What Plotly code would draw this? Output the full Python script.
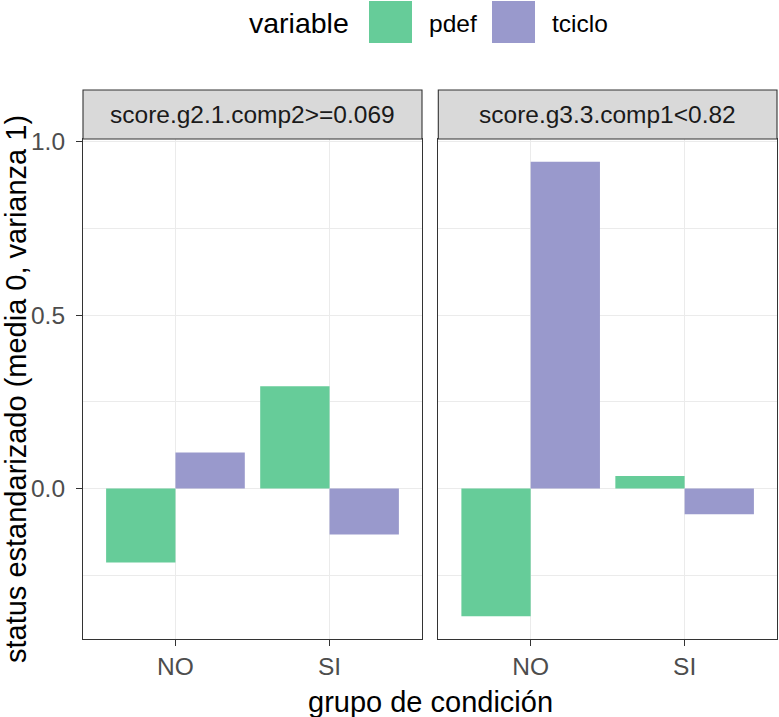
import plotly.graph_objects as go

# ---- data ----
groups = ["NO", "SI"]
facets = ["score.g2.1.comp2>=0.069", "score.g3.3.comp1<0.82"]
variables = ["pdef", "tciclo"]
colors = {"pdef": "#66CC99", "tciclo": "#9999CC"}
pdef_f1 = [-0.213, 0.295]
tciclo_f1 = [0.104, -0.132]
pdef_f2 = [-0.368, 0.036]
tciclo_f2 = [0.942, -0.074]

values = {
    (0, "pdef"): pdef_f1, (0, "tciclo"): tciclo_f1,
    (1, "pdef"): pdef_f2, (1, "tciclo"): tciclo_f2,
}

FONT = "Liberation Sans, Arial, sans-serif"
TXT = 24.5
TTL = 29
W, H = 779, 717
ML, MR, MT, MB = 83, 2, 139, 78
plot_w = W - ML - MR
plot_h = H - MT - MB

fig = go.Figure()
for fi in range(2):
    xa = "x" if fi == 0 else "x2"
    ya = "y" if fi == 0 else "y2"
    for v in variables:
        fig.add_trace(go.Bar(
            x=groups, y=values[(fi, v)], name=v,
            marker=dict(color=colors[v], line=dict(width=0)),
            xaxis=xa, yaxis=ya, showlegend=False, offsetgroup=v,
        ))

# y range per ggplot expansion
allv = pdef_f1 + tciclo_f1 + pdef_f2 + tciclo_f2
lo, hi = min(allv), max(allv)
pad = 0.05 * (hi - lo)
yrange = [lo - pad, hi + pad]

d1 = (422 - ML) / plot_w
d2 = (438.3 - ML) / plot_w

axis_common = dict(
    showline=True, mirror=True, linecolor="#333333", linewidth=1.1,
    ticks="outside", ticklen=6, tickwidth=1.1, tickcolor="#333333",
    tickfont=dict(family=FONT, size=TXT, color="#4D4D4D"),
    gridcolor="#EBEBEB", gridwidth=1.1, zeroline=False,
)
xcommon = dict(axis_common, type="category", range=[-0.6, 1.6], showgrid=True)
ycommon = dict(axis_common, range=yrange, tickvals=[0, 0.5, 1.0],
               ticktext=["0.0", "0.5", "1.0"], showgrid=True,
               minor=dict(tickvals=[-0.25, 0.25, 0.75], showgrid=True,
                          gridcolor="#EBEBEB", gridwidth=0.6, ticks=""))

fig.update_layout(
    width=W, height=H,
    margin=dict(l=ML, r=MR, t=MT, b=MB, autoexpand=False),
    paper_bgcolor="white", plot_bgcolor="white",
    barmode="group", bargap=0.1, bargroupgap=0,
    showlegend=False,
    font=dict(family=FONT),
    xaxis=dict(xcommon, domain=[0, d1], anchor="y"),
    xaxis2=dict(xcommon, domain=[d2, 1], anchor="y2"),
    yaxis=dict(ycommon, anchor="x", ticklabelstandoff=6),
    yaxis2=dict(ycommon, anchor="x2", showticklabels=False, ticks=""),
)

# facet strips
strip_top = 1 + (MT - 90) / plot_h
shapes = []
annotations = []
for fi, (a, b) in enumerate([(0, d1), (d2, 1)]):
    shapes.append(dict(type="rect", xref="paper", yref="paper",
                       x0=a, x1=b, y0=1, y1=strip_top,
                       fillcolor="#D9D9D9", line=dict(color="#333333", width=1.1),
                       layer="above"))
    annotations.append(dict(text=facets[fi], xref="paper", yref="paper",
                            x=(a + b) / 2, y=(1 + strip_top) / 2,
                            showarrow=False, xanchor="center", yanchor="middle",
                            font=dict(family=FONT, size=TXT, color="#1A1A1A")))

def px_x(px):
    return (px - ML) / plot_w

def px_y(py):
    return (MT + plot_h - py) / plot_h

# axis titles
annotations.append(dict(text="grupo de condición", xref="paper", yref="paper",
                        x=0.5, y=px_y(702),
                        showarrow=False, xanchor="center", yanchor="middle",
                        font=dict(family=FONT, size=TTL, color="black")))
annotations.append(dict(text="status estandarizado (media 0, varianza 1)",
                        xref="paper", yref="paper",
                        x=px_x(16), y=0.5, textangle=-90,
                        showarrow=False, xanchor="center", yanchor="middle",
                        font=dict(family=FONT, size=TTL, color="black")))

# legend (drawn manually, ggplot-style keys)
annotations.append(dict(text="variable", xref="paper", yref="paper",
                        x=px_x(351), y=px_y(23), showarrow=False,
                        xanchor="right", yanchor="middle",
                        font=dict(family=FONT, size=28.5, color="black")))
key_left = {"pdef": 369, "tciclo": 492}
for v in variables:
    shapes.append(dict(type="rect", xref="paper", yref="paper",
                       x0=px_x(key_left[v]), x1=px_x(key_left[v] + 43),
                       y0=px_y(43), y1=px_y(1),
                       fillcolor=colors[v], line=dict(width=0)))
    annotations.append(dict(text=v, xref="paper", yref="paper",
                            x=px_x(key_left[v] + 58), y=px_y(23), showarrow=False,
                            xanchor="left", yanchor="middle",
                            font=dict(family=FONT, size=TXT, color="black")))

fig.update_layout(shapes=shapes, annotations=annotations)
fig.write_html("out.html", config={"displayModeBar": False},
               post_script="document.body.style.margin='0';document.body.style.padding='0';")
